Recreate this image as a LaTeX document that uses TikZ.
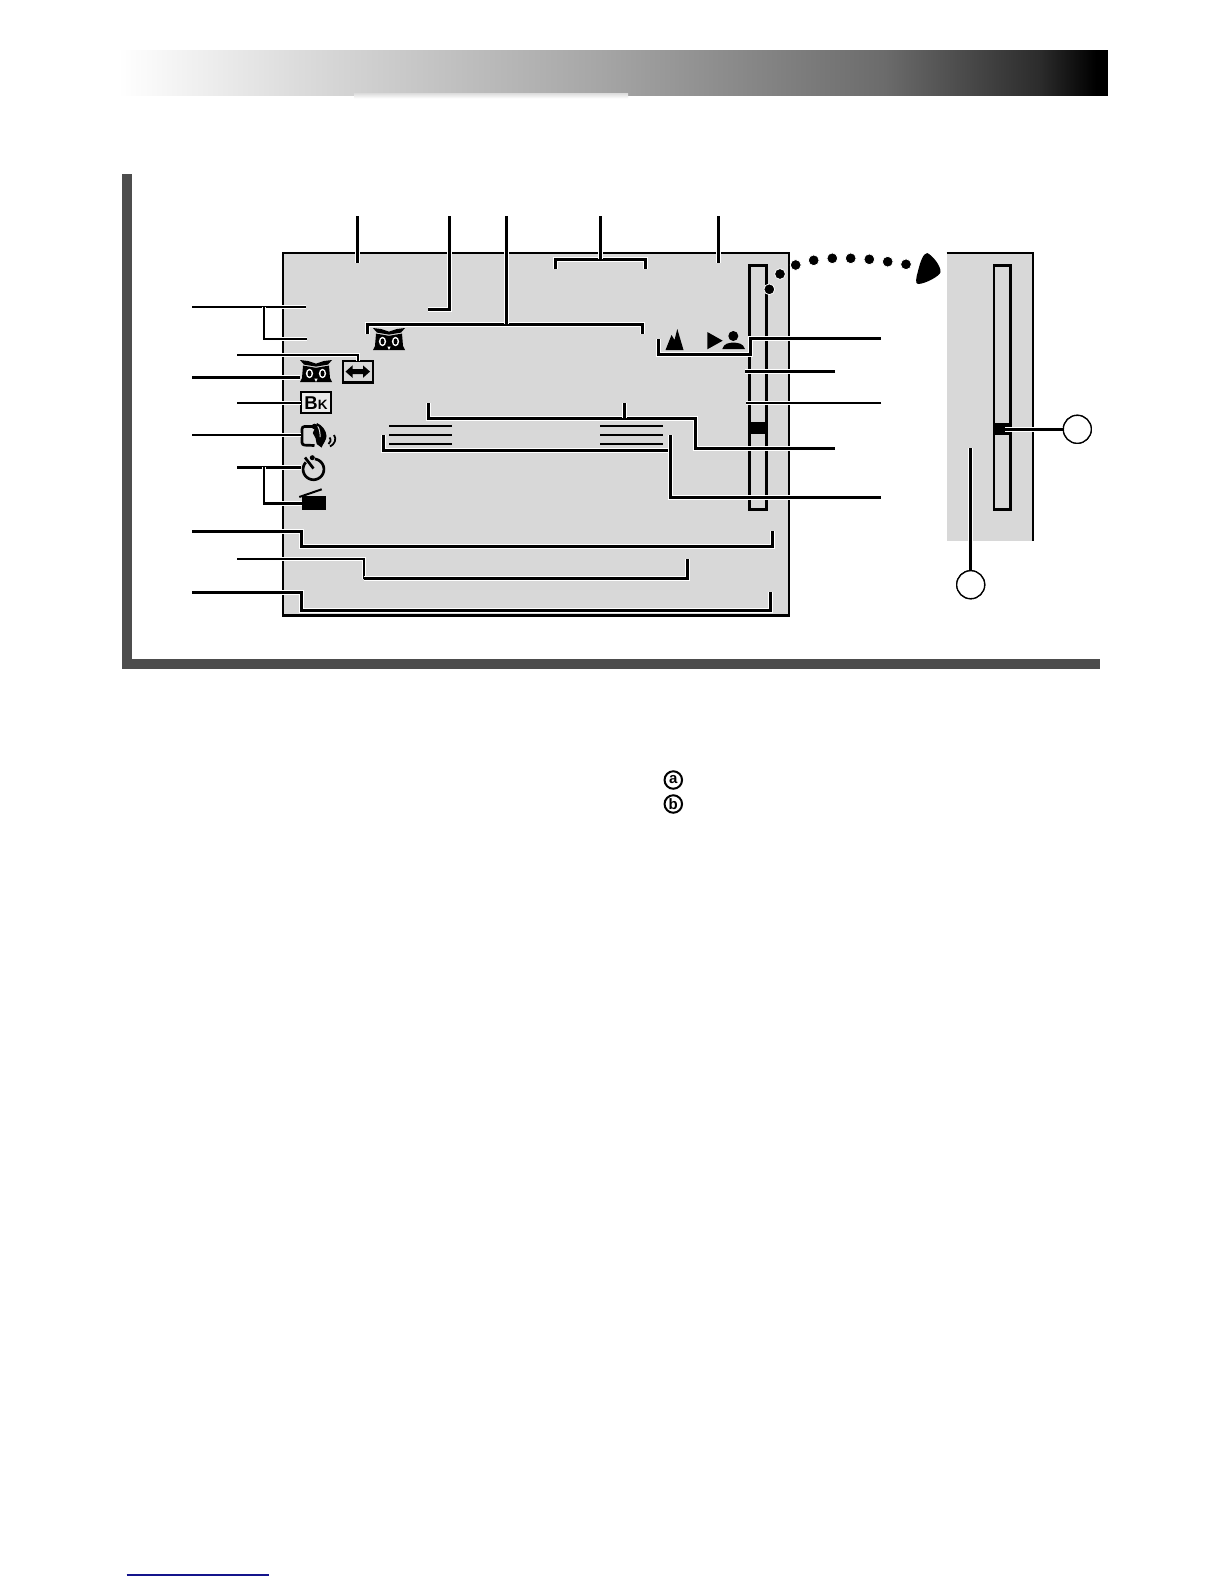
\documentclass[tikz,border=0pt]{standalone}
\usepackage{fontspec}
\setmainfont{Liberation Sans}
\definecolor{lcd}{HTML}{D8D8D8}
\definecolor{framegray}{HTML}{4D4D4D}
\definecolor{rulenavy}{HTML}{14148C}
\tikzset{
  lead/.style={draw=black,line width=#1,miter limit=10,preaction={draw=white,line width=#1+2pt}},
  lead/.default=3pt,
  iconbox/.style={inner sep=0pt,outer sep=0pt,minimum width=#1},
  bubble/.style={circle,draw=black,line width=1.3pt,fill=white,minimum size=28pt,inner sep=0pt},
  letterring/.style={circle,draw=black,line width=2pt,minimum size=17.5pt,inner sep=0pt,font=\bfseries\fontsize{15}{15}\selectfont},
  screenline/.style={draw=black,line width=2.5pt},
  owlicon/.pic={
    \fill[black] (0,0) -- (8,1) -- (16,3.6) -- (24,1) -- (32,0) -- (28,4.6) -- (16,6.6) -- (4,4.6) -- cycle;
    \fill[black] (3,5.6) -- (16,7.8) -- (29,5.6) -- (30,18) -- (32,22) -- (0,22) -- (2,18) -- cycle;
    \fill[white] (9.5,13.5) ellipse (3.6pt and 4.7pt) (22.5,13.5) ellipse (3.6pt and 4.7pt);
    \fill[black] (9.5,13.5) ellipse (2pt and 3.1pt) (22.5,13.5) ellipse (2pt and 3.1pt);
    \fill[white] (14.3,18.5) -- (17.7,18.5) -- (16,22) -- cycle;
  }
}
\begin{document}
\begin{tikzpicture}[x=1pt,y=-1pt]
\useasboundingbox (0,0) rectangle (1224,1584);
\fill[white] (0,0) rectangle (1224,1584);

% header band
\shade[left color=white,right color=black!14] (118,50.5) rectangle (300,96);
\shade[left color=black!14,right color=black!35] (300,50.5) rectangle (600,96);
\shade[left color=black!35,right color=black!58] (600,50.5) rectangle (885,96);
\shade[left color=black!58,right color=black!83] (885,50.5) rectangle (1040,96);
\shade[left color=black!83,right color=black] (1040,50.5) rectangle (1096,96);
\fill[black] (1095.5,50.5) rectangle (1108,96);
\shade[top color=black!13,bottom color=white] (354,93.5) rectangle (628,98.5);

% page frame
\fill[framegray] (122,174) rectangle (132,669);
\fill[framegray] (122,659) rectangle (1100,669);

% main screen
\draw[screenline,fill=lcd] (283,253) rectangle (789,615.5);
\draw[black,line width=2.7pt] (749.5,265.5) rectangle (766.5,509.5);
\fill[black] (748.5,421.7) rectangle (767.5,434);

% side panel
\fill[lcd] (946.7,253) rectangle (1033.3,540.7);
\draw[black,line width=2.3pt] (946.7,253.3) -- (1033.3,253.3) -- (1033.3,540.7);
\draw[black,line width=2.5pt] (994,265.5) rectangle (1010.5,509.5);
\fill[black] (992.7,423.3) rectangle (1011.7,435);

% dotted arrow
\foreach \px/\py in {769.3/289.3,780/274,795.7/265,813.7/260.3,832.3/258.3,850.7/258.3,869.3/259.3,887.7/261.7,906/264.3}
  \fill[black,draw=white,line width=0.8pt] (\px,\py) circle (5.4pt);
\fill[black] (927.3,253) .. controls (933,256) and (941,266) .. (940.5,272) .. controls (940,276) and (925,284) .. (918,284) .. controls (915,284) and (916,278) .. (918,271) .. controls (920,263) and (923,253) .. (927.3,253) -- cycle;

% icon place holders
\node[iconbox=32pt,minimum height=22pt] (owlL) at (316,377.3) {};
\node[iconbox=32pt,minimum height=22pt] (owlU) at (389,339) {};
\node[iconbox=30pt,minimum height=21.6pt,draw=black,line width=2.4pt] (arrowbox) at (357.7,371.5) {};
\node[iconbox=29.4pt,minimum height=21pt,draw=black,line width=1.8pt,text height=13pt,text depth=0pt,fill=lcd!50!white] (bk) at (316,402.8)
  {\bfseries\fontsize{18.5}{18.5}\selectfont B\fontsize{13.5}{13.5}\selectfont K};
\node[iconbox=13pt,minimum height=20pt] (hand) at (307,435) {};
\node[iconbox=2pt,minimum height=20pt] (timer) at (301.7,467.3) {};
\node[iconbox=24pt,minimum height=14pt,fill=black] (clapper) at (313.9,503.3) {};

\pic at (300,360) {owlicon};
\pic at (373,328) {owlicon};

% arrow in box
\fill[black] (345.5,371.6) -- (352.5,365.4) -- (352.5,369.2) -- (363,369.2) -- (363,365.4) -- (370,371.6) -- (363,377.8) -- (363,374) -- (352.5,374) -- (352.5,377.8) -- cycle;

% hand icon
\draw[black,line width=2.7pt,rounded corners=2.5pt] (313.5,426.5) -- (302,426.5) -- (302,445) -- (314.5,445.5);
\fill[black] (314.5,426.5) circle (2.8pt);
\fill[black] (317,423) .. controls (322,425) and (326.5,431) .. (326.5,436) .. controls (326.5,440) and (323,444) .. (321.5,447.5) -- (316.7,444) -- (315.5,438) -- (312.8,433) -- (315,428) -- cycle;
\draw[lcd,line width=1pt] (317.7,426.3) .. controls (319.5,429) and (320.3,433) .. (320,437);
\draw[black,line width=1.8pt] (329.5,437.5) .. controls (331.5,440) and (330.5,442.5) .. (328.5,444);
\draw[black,line width=1.8pt] (334,435) .. controls (337,439) and (334.5,444.5) .. (330,446.5);

% timer icon
\draw[black,line width=2.7pt,line cap=butt] plot[domain=-82:222,samples=50,smooth] ({313.5+10.4*cos(\x)},{469.3+10.4*sin(\x)});
\draw[black,line width=2.7pt] (305,457.5) -- (313.5,468.5);
\fill[black] (312.3,457.7) circle (2.5pt);

% clapper stick
\draw[black,line width=2pt] (299.3,497) -- (321.7,489.3);

% mountains and person icons
\fill[black] (665.5,350) -- (671.5,335) -- (674.5,340) -- (677.3,329) -- (683.5,350) -- cycle;
\fill[black] (707.3,332) -- (722.7,340.7) -- (707.3,349.3) -- cycle;
\fill[black] (733.3,336) circle (5pt);
\fill[black] (722.3,349) .. controls (724,343) and (729,343) .. (733.3,342.5) .. controls (738,343) and (743,343) .. (745,349) -- cycle;

% equal-bar groups
\foreach \ly in {425.7,434.7,444}{
  \draw[black,line width=2pt] (389,\ly) -- (452,\ly);
  \draw[black,line width=2pt] (600,\ly) -- (663,\ly);
}

% free ends of the connectors
\coordinate (tA) at (357.3,216);   \coordinate (eA) at (357.3,262.7);
\coordinate (tB) at (449.3,216);   \coordinate (eB) at (428,309);
\coordinate (tC) at (506,216);     \coordinate (jC) at (506,324.3);
\coordinate (cL) at (367.7,334);   \coordinate (cR) at (642.3,334);
\coordinate (tD) at (600.3,216);   \coordinate (jD) at (600.3,259.3);
\coordinate (dL) at (555.3,269.3); \coordinate (dR) at (645.3,269.3);
\coordinate (tE) at (718.3,216);   \coordinate (eE) at (718.3,262.7);
\coordinate (lA) at (192,307);     \coordinate (eA1) at (306,307);
\coordinate (jA) at (264,307);     \coordinate (eA2) at (306.7,339);
\coordinate (lB) at (237,355);
\coordinate (lC) at (192,377.3);
\coordinate (lD) at (237,402.8);
\coordinate (lF) at (192,435);
\coordinate (lG) at (237,467.3);   \coordinate (jG) at (264,467.3);
\coordinate (lH) at (192,531.3);   \coordinate (eH) at (772.7,531);
\coordinate (bH) at (301.3,546.2);
\coordinate (lI) at (237,559);     \coordinate (eI) at (687.3,559);
\coordinate (bI) at (363.7,578.5);
\coordinate (lJ) at (192,592.3);   \coordinate (eJ) at (770.7,591.7);
\coordinate (bJ) at (301.3,610.3);
\coordinate (rK) at (881,338.3);   \coordinate (kM) at (750,354.3);  \coordinate (kE) at (658.3,339.3);
\coordinate (rL) at (835,371.3);   \coordinate (eL) at (745,371.3);
\coordinate (rN) at (881,402.7);   \coordinate (eN) at (746,402.7);
\coordinate (rO) at (835,448.3);   \coordinate (jO) at (695.7,418.3);
\coordinate (oL) at (428.3,403);   \coordinate (oM) at (624.3,403);
\coordinate (rP) at (881,497.3);   \coordinate (pT) at (670.7,435);
\coordinate (pL) at (383.7,435);   \coordinate (pJ) at (670.7,450.7);

% connectors: top
\draw[lead] (tA) -- (eA);
\draw[lead] (tB) |- (eB);
\draw[lead] (tE) -- (eE);
\draw[lead] (cL) |- (jC) -| (cR);
\draw[lead] (tC) -- (jC);
\draw[lead] (dL) |- (jD) -| (dR);
\draw[lead] (tD) -- (jD);

% connectors: left
\draw[lead=2.3pt] (lA) -- (eA1);
\draw[lead=2.6pt] (jA) |- (eA2);
\draw[lead=2.3pt] (lB) -| (arrowbox.north);
\draw[lead=3.2pt] (lC) -- (owlL.west);
\draw[lead=2.3pt] (lD) -- (bk.west);
\draw[lead=2.3pt] (lF) -- (hand.west);
\draw[lead=2.6pt] (lG) -- (timer.west);
\draw[lead=2.6pt] (jG) |- (clapper.west);
\draw[lead] (lH) -| (bH) -| (eH);
\draw[lead=2.3pt] (lI) -| (bI);
\draw[lead] (bI) -| (eI);
\draw[lead] (lJ) -| (bJ) -| (eJ);

% connectors: right
\draw[lead] (kE) |- (kM) |- (rK);
\draw[lead] (rL) -- (eL);
\draw[lead=2.3pt] (rN) -- (eN);
\draw[lead] (oL) |- (jO) |- (rO);
\draw[lead] (oM) -- (oM |- jO);
\draw[lead] (pL) |- (pJ) -- (pT);
\draw[lead] (pT) |- (rP);

% side panel bubbles
\node[bubble] (ca) at (1077.3,429.3) {};
\node[bubble] (cb) at (970.7,584.7) {};
\coordinate (eCa) at (1005,429.3);
\coordinate (eCb) at (970.7,448.3);
\draw[lead=2.6pt] (ca) -- (eCa);
\draw[lead=2.6pt] (cb) -- (eCb);
\node[bubble] at (ca) {};
\node[bubble] at (cb) {};

% legend letters
\node[letterring] (la) at (673.3,780) {a};
\node[letterring] (lb) at (673.3,804) {b};

% bottom rule
\draw[rulenavy,line width=1.2pt] (126.7,1575) -- (269,1575);
\end{tikzpicture}
\end{document}
